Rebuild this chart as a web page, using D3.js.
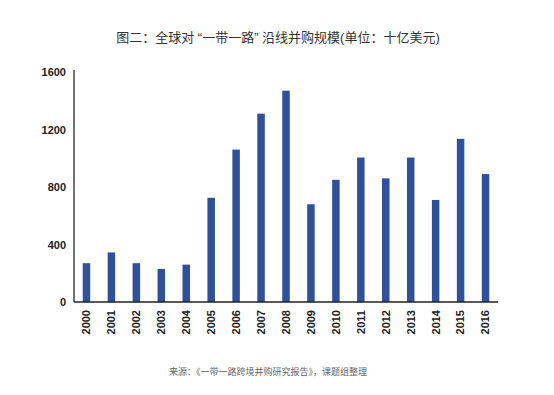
<!DOCTYPE html>
<html>
<head lang="zh">
    <meta charset="UTF-8">
    <title></title>
    <script src="https://cdn.jsdelivr.net/npm/d3@7"></script>
    <style>
        body{margin:0;background:#fff;}
        text{font-family:"Liberation Sans","Noto Sans CJK SC",sans-serif;}
    </style>
</head>
<body>
<script>
    //年份与并购规模（十亿美元）
    var years=["2000","2001","2002","2003","2004","2005","2006","2007","2008",
        "2009","2010","2011","2012","2013","2014","2015","2016"];
    var values=[270,345,270,230,260,725,1060,1310,1470,680,850,1005,860,1005,710,1135,890];
    var yTicks=[0,400,800,1200,1600];
    var title="图二：全球对 “一带一路” 沿线并购规模(单位：十亿美元)";
    var source="来源：《一带一路跨境并购研究报告》，课题组整理";

    var _svg=d3.select("body").append("svg")
            .attr("width",554)
            .attr("height",395);

    var x=d3.scaleBand().domain(years).range([74,498]).paddingInner(0.7).paddingOuter(0.35);
    var y=d3.scaleLinear().domain([0,1600]).range([302,72]);

    _svg.append("text")
            .attr("x",278).attr("y",42)
            .attr("text-anchor","middle")
            .style("font-size","13px")
            .style("fill","#333")
            .text(title);

    //柱子
    _svg.append("g").selectAll("rect")
            .data(values)
            .enter()
            .append("rect")
            .attr("x",function(d,i){return x(years[i]);})
            .attr("y",function(d){return y(d);})
            .attr("width",x.bandwidth())
            .attr("height",function(d){return y(0)-y(d);})
            .style("fill","#2f509c");

    //y轴
    var _yAxis=_svg.append("g")
            .attr("transform","translate(74,0)")
            .call(d3.axisLeft(y).tickValues(yTicks).tickFormat(d3.format("d")).tickSize(0).tickPadding(8));
    _yAxis.select(".domain").attr("d","M0,70V302").style("stroke","#444").style("stroke-width",1.5);
    _yAxis.selectAll("text").style("font-size","11px").style("font-weight","bold").style("fill","#222");

    //x轴
    var _xAxis=_svg.append("g")
            .attr("transform","translate(0,302)")
            .call(d3.axisBottom(x).tickSize(0));
    _xAxis.select(".domain").attr("d","M74,0H498").style("stroke","#222").style("stroke-width",1.5);
    _xAxis.selectAll("text")
            .attr("transform","rotate(-90)")
            .attr("x",-8).attr("y",0).attr("dy","0.35em")
            .style("text-anchor","end")
            .style("font-size","11px")
            .style("font-weight","bold")
            .style("fill","#222");

    _svg.append("text")
            .attr("x",268).attr("y",375)
            .attr("text-anchor","middle")
            .style("font-size","9px")
            .style("fill","#666")
            .text(source);
</script>
</body>
</html>
